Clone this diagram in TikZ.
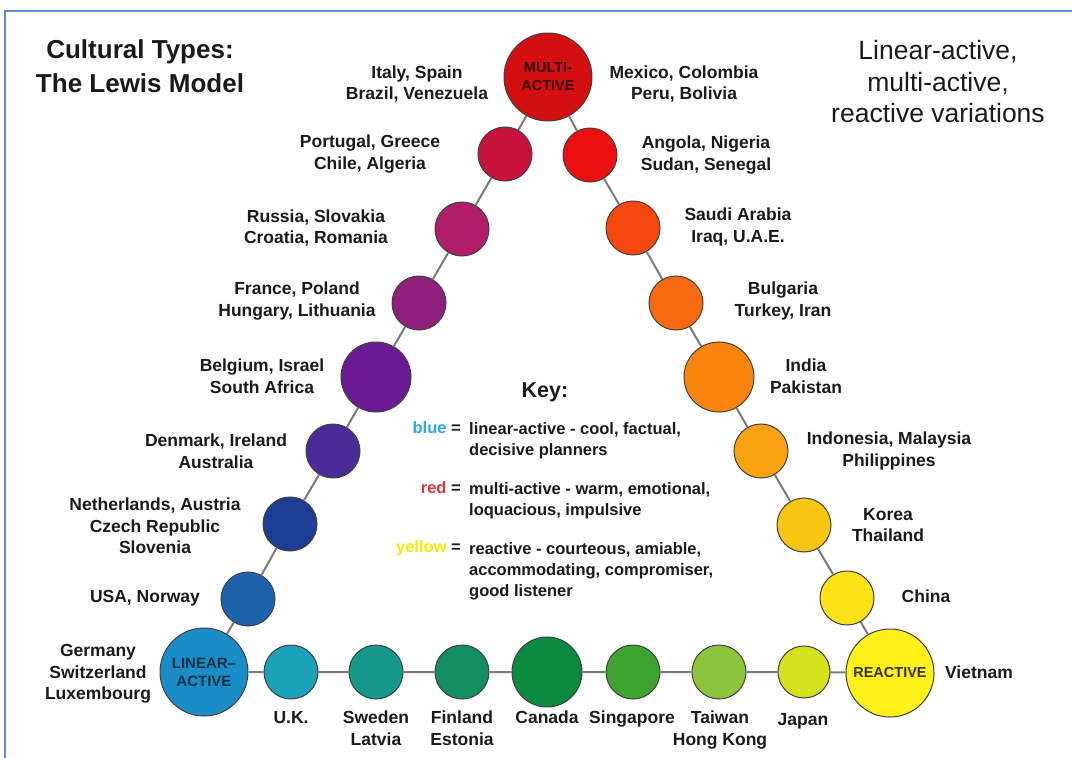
\documentclass[tikz,border=0pt]{standalone}
\usepackage{fontspec}
\setmainfont{Liberation Sans}
\usetikzlibrary{positioning}

\definecolor{ink}{HTML}{1A1A1A}
\definecolor{frameblue}{HTML}{5B8FD6}
\definecolor{linkgray}{HTML}{7A7A7A}
\definecolor{keyblue}{HTML}{29ABE2}
\definecolor{keyred}{HTML}{D9363E}
\definecolor{keyyellow}{HTML}{F5EB00}
\definecolor{cMA}{HTML}{D40F0F}
\definecolor{cLone}{HTML}{C8123E}
\definecolor{cLtwo}{HTML}{B01E6A}
\definecolor{cLthree}{HTML}{8E1F7C}
\definecolor{cLfour}{HTML}{6B1A94}
\definecolor{cLfive}{HTML}{4B2C96}
\definecolor{cLsix}{HTML}{1E3E96}
\definecolor{cLseven}{HTML}{1E62AA}
\definecolor{cLA}{HTML}{1A8CC6}
\definecolor{cBone}{HTML}{1BA2B8}
\definecolor{cBtwo}{HTML}{16998A}
\definecolor{cBthree}{HTML}{118F63}
\definecolor{cBfour}{HTML}{0A8A3E}
\definecolor{cBfive}{HTML}{3DA52F}
\definecolor{cBsix}{HTML}{8CC43E}
\definecolor{cBseven}{HTML}{D4E31E}
\definecolor{cRE}{HTML}{FFF01A}
\definecolor{cRseven}{HTML}{FCE217}
\definecolor{cRsix}{HTML}{F8C613}
\definecolor{cRfive}{HTML}{F8A211}
\definecolor{cRfour}{HTML}{FA840E}
\definecolor{cRthree}{HTML}{F86A12}
\definecolor{cRtwo}{HTML}{F6470E}
\definecolor{cRone}{HTML}{EA1010}

\tikzset{
  dot/.style={circle,draw=black!75,line width=1pt,inner sep=0pt,minimum size=54pt},
  middot/.style={dot,minimum size=70pt},
  bigdot/.style={dot,minimum size=88pt,align=center,font=\bfseries\fontsize{14.5}{18}\selectfont},
  link/.style={draw=linkgray,line width=2pt},
  lbl/.style={font=\bfseries\fontsize{17.5}{21.5}\selectfont,align=center,text=ink,inner sep=0pt},
  keytxt/.style={font=\bfseries\fontsize{16.5}{21}\selectfont,align=left,text=ink,inner sep=0pt}
}

\begin{document}
\begin{tikzpicture}[x=1pt,y=-1pt]
\useasboundingbox (0,0) rectangle (1072,758);
\draw[frameblue,line width=2pt] (5,758) -- (5,11) -- (1072,11);

\node[bigdot,fill=cMA,text=black!75!cMA,text depth=-3pt] (ma) at (548,77) {MULTI-\\ACTIVE};
\node[dot,fill=cLone] (l1) at (505,154) {};
\node[dot,fill=cLtwo] (l2) at (462,229) {};
\node[dot,fill=cLthree] (l3) at (419,303) {};
\node[middot,fill=cLfour] (l4) at (376,377) {};
\node[dot,fill=cLfive] (l5) at (333,451) {};
\node[dot,fill=cLsix] (l6) at (290,524) {};
\node[dot,fill=cLseven] (l7) at (248,599) {};
\node[bigdot,fill=cLA,text=black!65!cLA,font=\bfseries\fontsize{15}{18}\selectfont] (la) at (204,672) {LINEAR--\\ACTIVE};
\node[dot,fill=cBone] (b1) at (291,672) {};
\node[dot,fill=cBtwo] (b2) at (376,672) {};
\node[dot,fill=cBthree] (b3) at (462,672) {};
\node[middot,fill=cBfour] (b4) at (547,672) {};
\node[dot,fill=cBfive] (b5) at (633,672) {};
\node[dot,fill=cBsix] (b6) at (719,672) {};
\node[dot,fill=cBseven,minimum size=52pt] (b7) at (804,672) {};
\node[bigdot,fill=cRE,text=black!80] (re) at (890,673) {REACTIVE};
\node[dot,fill=cRseven] (r7) at (847,598) {};
\node[dot,fill=cRsix] (r6) at (804,525) {};
\node[dot,fill=cRfive] (r5) at (761,451) {};
\node[middot,fill=cRfour] (r4) at (719,377) {};
\node[dot,fill=cRthree] (r3) at (676,303) {};
\node[dot,fill=cRtwo] (r2) at (633,228) {};
\node[dot,fill=cRone] (r1) at (590,155) {};

\draw[link] (ma) -- (l1) -- (l2) -- (l3) -- (l4) -- (l5) -- (l6) -- (l7) -- (la);
\draw[link] (la) -- (b1) -- (b2) -- (b3) -- (b4) -- (b5) -- (b6) -- (b7) -- (re);
\draw[link] (re) -- (r7) -- (r6) -- (r5) -- (r4) -- (r3) -- (r2) -- (r1) -- (ma);

\node[lbl] (lab-ma-l) at (417,84) {Italy, Spain\\Brazil, Venezuela};
\node[lbl] (lab-ma-r) at (684,84) {Mexico, Colombia\\Peru, Bolivia};
\node[lbl] (lab-l1) at (370,154) {Portugal, Greece\\Chile, Algeria};
\node[lbl] (lab-l2) at (316,228) {Russia, Slovakia\\Croatia, Romania};
\node[lbl] (lab-l3) at (297,301) {France, Poland\\Hungary, Lithuania};
\node[lbl] (lab-l4) at (262,376) {Belgium, Israel\\South Africa};
\node[lbl] (lab-l5) at (216,451) {Denmark, Ireland\\Australia};
\node[lbl] (lab-l6) at (155,526) {Netherlands, Austria\\Czech Republic\\Slovenia};
\node[lbl] (lab-l7) at (145,598) {USA, Norway};
\node[lbl] (lab-la) at (98,674) {Germany\\Switzerland\\Luxembourg};
\node[lbl] (lab-r1) at (706,155) {Angola, Nigeria\\Sudan, Senegal};
\node[lbl] (lab-r2) at (738,227) {Saudi Arabia\\Iraq, U.A.E.};
\node[lbl] (lab-r3) at (783,301) {Bulgaria\\Turkey, Iran};
\node[lbl] (lab-r4) at (806,376) {India\\Pakistan};
\node[lbl] (lab-r5) at (889,451) {Indonesia, Malaysia\\Philippines};
\node[lbl] (lab-r6) at (888,525) {Korea\\Thailand};
\node[lbl] (lab-r7) at (926,596) {China};
\node[lbl] (lab-re) at (979,672) {Vietnam};
\node[lbl,anchor=north] (lab-b1) at (291,711) {U.K.};
\node[lbl,anchor=north] (lab-b2) at (376,711) {Sweden\\Latvia};
\node[lbl,anchor=north] (lab-b3) at (462,711) {Finland\\Estonia};
\node[lbl,anchor=north] (lab-b4) at (547,711) {Canada};
\node[lbl,anchor=north] (lab-b5) at (632,711) {Singapore};
\node[lbl,anchor=north] (lab-b6) at (720,711) {Taiwan\\Hong Kong};
\node[lbl,anchor=north] (lab-b7) at (803,713) {Japan};

\node[font=\bfseries\fontsize{26}{34}\selectfont,align=center,text=ink] (title) at (140,66) {Cultural Types:\\The Lewis Model};
\node[font=\fontsize{26.5}{31.5}\selectfont,align=center,text=ink] (subtitle) at (938,82) {Linear-active,\\multi-active,\\reactive variations};

\node[font=\bfseries\fontsize{21.5}{24}\selectfont,text=ink] (key) at (545,392) {Key:};
\node[keytxt,anchor=east] (kblue) at (461,428) {\textcolor{keyblue}{blue} =};
\node[keytxt,anchor=east] (kred) at (461,488) {\textcolor{keyred}{red} =};
\node[keytxt,anchor=east] (kyellow) at (461,548) {\textcolor{keyyellow}{yellow} =};
\node[keytxt,anchor=north west] (dblue) at (469,422) {linear-active - cool, factual,\\decisive planners};
\node[keytxt,anchor=north west] (dred) at (469,482) {multi-active - warm, emotional,\\loquacious, impulsive};
\node[keytxt,anchor=north west] (dyellow) at (469,542) {reactive - courteous, amiable,\\accommodating, compromiser,\\good listener};
\end{tikzpicture}
\end{document}
